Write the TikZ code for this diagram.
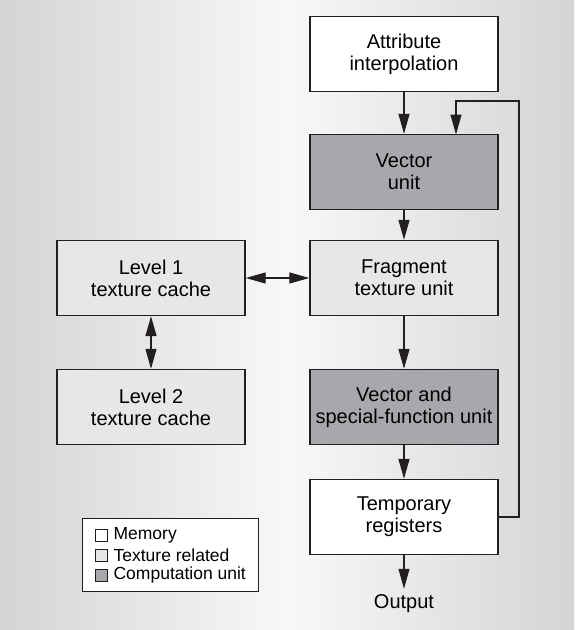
\documentclass[tikz,border=0pt]{standalone}
\usepackage{fontspec}
\setmainfont{Liberation Sans}
\usetikzlibrary{arrows.meta, positioning}
\definecolor{memfill}{HTML}{FFFFFF}
\definecolor{texfill}{HTML}{E6E7E8}
\definecolor{compfill}{HTML}{A7A8AB}
\definecolor{edgegray}{HTML}{231F20}
\definecolor{bgside}{HTML}{D3D4D6}
\definecolor{bgmid}{HTML}{F8F8F8}

\begin{document}
\begin{tikzpicture}[x=1pt, y=-1pt,
		block/.style={draw=edgegray, line width=1.4pt, minimum width=188pt, minimum height=75pt,
			align=center, inner sep=0pt, font=\fontsize{20}{22}\selectfont},
		memory/.style={block, fill=memfill},
		texture/.style={block, fill=texfill},
		compute/.style={block, fill=compfill},
		flow/.style={draw=edgegray, line width=1.2pt, -{Triangle[length=20pt, width=11pt]}},
		both/.style={flow, {Triangle[length=20pt, width=11pt]}-{Triangle[length=20pt, width=11pt]}},
		keybox/.style={draw=edgegray, line width=0.8pt, minimum size=12pt, inner sep=0pt},
		keytext/.style={inner sep=0pt, font=\fontsize{17.5}{18}\selectfont}]

				% background
				\shade[left color=bgside, right color=bgside, middle color=bgmid] (0,0) rectangle (574,630);
				\useasboundingbox (0,0) rectangle (574,630);

				% pipeline
				\node[memory] (attr) at (404,54) {Attribute\\interpolation};
				\node[compute] (vec) at (404,172) {Vector\\unit};
				\node[texture] (frag) at (404,278) {Fragment\\texture unit};
				\node[compute] (sfu) at (404,407) {Vector and\\special-function unit};
				\node[memory] (temp) at (404,517) {Temporary\\registers};
				\node[inner sep=6pt, font=\fontsize{20}{22}\selectfont] (out) at (404,604) {Output};

				% texture caches
				\node[texture] (l1) at (151,278) {Level 1\\texture cache};
				\node[texture] (l2) at (151,407) {Level 2\\texture cache};

				\draw[flow] (attr) -- (vec);
				\draw[flow] (vec) -- (frag);
				\draw[flow] (frag) -- (sfu);
				\draw[flow] (sfu) -- (temp);
				\draw[flow] (temp) -- (out);
				\draw[both] (l1) -- (frag);
				\draw[both] (l1) -- (l2);

				% feedback
				\coordinate (loop) at (519,101);
				\coordinate (loopin) at (456,134.5);
				\draw[flow] (temp.east) -| (loop) -| (loopin);

				% legend
				\node[draw=edgegray, line width=1pt, fill=white, minimum width=176pt, minimum height=73pt] (key) at (170,554.5) {};
				\node[keybox, fill=memfill] (kmem) at (101,535) {};
				\node[keytext, right=6pt of kmem] (tmem) {Memory};
				\node[keybox, fill=texfill] (ktex) at (101,555) {};
				\node[keytext, right=6pt of ktex] (ttex) {Texture related};
				\node[keybox, fill=compfill] (kcomp) at (101,575) {};
				\node[keytext, right=6pt of kcomp] (tcomp) {Computation unit};
			\end{tikzpicture}
\end{document}
